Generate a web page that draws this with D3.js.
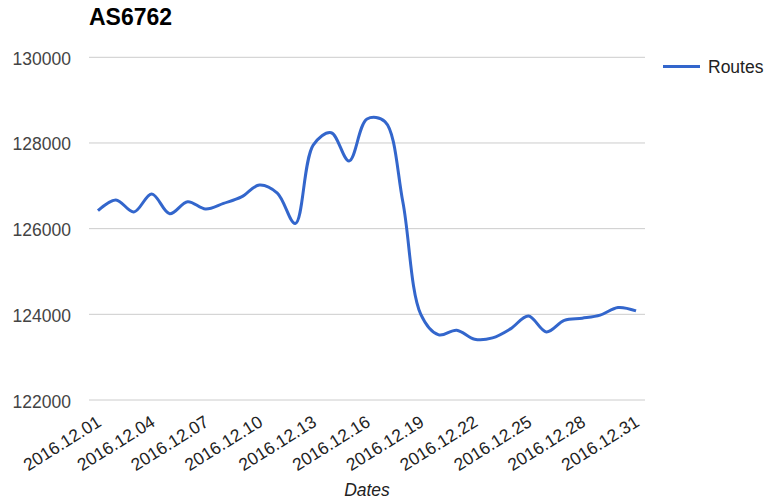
<!DOCTYPE html>
<html>
<head>
<meta charset="utf-8">
<script src="https://cdn.jsdelivr.net/npm/d3@7"></script>
<style>
  html, body { margin: 0; padding: 0; background: #fff; }
  svg { display: block; font-family: "Liberation Sans", Arial, sans-serif; }
</style>
</head>
<body>
<svg id="chart" width="765" height="500"></svg>
<script>
const title = "AS6762";
const seriesName = "Routes";
const xAxisTitle = "Dates";
const dates = [
  "2016.12.01","2016.12.02","2016.12.03","2016.12.04","2016.12.05","2016.12.06","2016.12.07",
  "2016.12.08","2016.12.09","2016.12.10","2016.12.11","2016.12.12","2016.12.13","2016.12.14",
  "2016.12.15","2016.12.16","2016.12.17","2016.12.18","2016.12.19","2016.12.20","2016.12.21",
  "2016.12.22","2016.12.23","2016.12.24","2016.12.25","2016.12.26","2016.12.27","2016.12.28",
  "2016.12.29","2016.12.30","2016.12.31"
];
const routes = [
  126420, 126670, 126390, 126810, 126350, 126630, 126460,
  126590, 126740, 127020, 126830, 126120, 127950, 128240,
  127580, 128560, 128500, 126620, 124000, 123520, 123630,
  123420, 123450, 123660, 123960, 123590, 123860, 123910,
  123980, 124160, 124080
];
const yTicks = [122000, 124000, 126000, 128000, 130000];
const xTickLabels = ["2016.12.01","2016.12.04","2016.12.07","2016.12.10","2016.12.13","2016.12.16",
  "2016.12.19","2016.12.22","2016.12.25","2016.12.28","2016.12.31"];

const svg = d3.select("#chart");
const plotLeft = 89, plotRight = 645, plotTop = 57.3, plotBottom = 400;

const x = d3.scalePoint().domain(dates).range([plotLeft, plotRight]).padding(0.5);
const y = d3.scaleLinear().domain([122000, 130000]).range([plotBottom, plotTop]);

// gridlines
svg.append("g").selectAll("line").data(yTicks).join("line")
  .attr("x1", plotLeft).attr("x2", plotRight)
  .attr("y1", d => y(d)).attr("y2", d => y(d))
  .attr("stroke", "#cccccc").attr("stroke-width", 1);

// y axis labels
const yAxis = d3.axisLeft(y).tickValues(yTicks).tickSize(0).tickPadding(0).tickFormat(d3.format("d"));
const gy = svg.append("g").attr("transform", `translate(${plotLeft - 18},0)`).call(yAxis);
gy.select(".domain").remove();
gy.selectAll("text").attr("fill", "#444").style("font-size", "17.5px")
  .style("font-family", "'Liberation Sans', Arial, sans-serif").attr("dy", "0.4em");

// x axis labels
const xAxis = d3.axisBottom(x).tickValues(xTickLabels).tickSize(0).tickPadding(0);
const gx = svg.append("g").attr("transform", `translate(0,${plotBottom})`).call(xAxis);
gx.select(".domain").remove();
gx.selectAll("text")
  .attr("fill", "#222").style("font-size", "17.5px")
  .style("font-family", "'Liberation Sans', Arial, sans-serif")
  .attr("text-anchor", "end")
  .attr("x", 0).attr("y", 0).attr("dy", "0")
  .attr("transform", "translate(4,25) rotate(-32)");

// line
const line = d3.line()
  .x((d, i) => x(dates[i]))
  .y(d => y(d))
  .curve(d3.curveCatmullRom.alpha(0.5));
svg.append("path").datum(routes)
  .attr("fill", "none").attr("stroke", "#3366cc").attr("stroke-width", 3)
  .attr("stroke-linejoin", "round").attr("d", line);

// title
svg.append("text").attr("x", plotLeft).attr("y", 25).text(title)
  .attr("fill", "#000").style("font-size", "23px").style("font-weight", "bold");

// legend
svg.append("line").attr("x1", 663).attr("x2", 700).attr("y1", 66.5).attr("y2", 66.5)
  .attr("stroke", "#3366cc").attr("stroke-width", 3);
svg.append("text").attr("x", 708).attr("y", 72.5).text(seriesName)
  .attr("fill", "#222").style("font-size", "17.5px");

// x axis title
svg.append("text").attr("x", (plotLeft + plotRight) / 2).attr("y", 496).attr("text-anchor", "middle")
  .text(xAxisTitle).attr("fill", "#222").style("font-size", "17.5px").style("font-style", "italic");
</script>
</body>
</html>
